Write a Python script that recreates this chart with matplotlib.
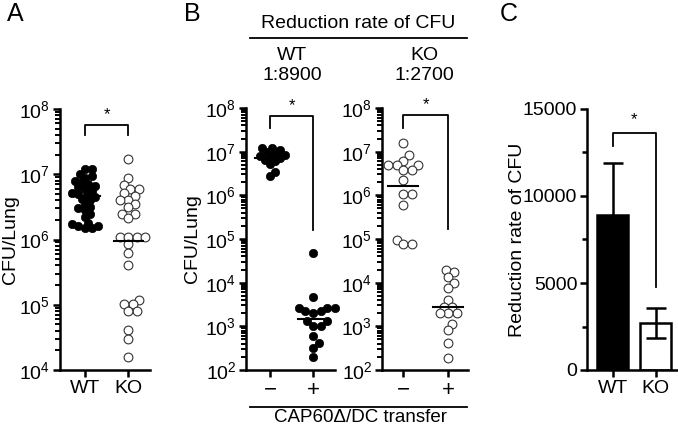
import numpy as np
import matplotlib
matplotlib.use("Agg")
import matplotlib.pyplot as plt
from matplotlib.lines import Line2D
from matplotlib.ticker import FixedLocator, LogLocator, LogFormatterSciNotation

plt.rcParams['font.family'] = ['Liberation Sans', 'DejaVu Sans']
plt.rcParams['mathtext.fontset'] = 'custom'
plt.rcParams['mathtext.rm'] = 'Liberation Sans'
plt.rcParams['mathtext.it'] = 'Liberation Sans:italic'
plt.rcParams['mathtext.bf'] = 'Liberation Sans:bold'

# ---- data ----
# panel A: CFU/Lung, WT (filled) vs KO (open)
a_groups = ['WT', 'KO']
a_wt = [1.2e7, 1.2e7, 1.0e7, 9.5e6, 8.9e6, 7.9e6, 7.6e6, 7.1e6, 6.6e6, 6.3e6,
        6.0e6, 5.6e6, 5.2e6, 5.0e6, 4.8e6, 4.5e6, 4.2e6, 4.0e6, 3.5e6, 3.2e6,
        3.0e6, 2.8e6, 2.5e6, 2.2e6, 1.8e6, 1.7e6, 1.6e6, 1.5e6, 1.5e6, 1.6e6]
a_ko = [1.7e7, 8.9e6, 6.9e6, 5.9e6, 5.9e6, 5.1e6, 4.7e6, 4.1e6, 4.1e6, 3.5e6,
        3.1e6, 2.5e6, 2.5e6, 2.1e6, 1.1e6, 1.1e6, 1.1e6, 1.1e6, 8.5e5, 6.2e5,
        4.1e5, 1.17e5, 1.02e5, 1.02e5, 8.1e4, 8.1e4, 4.1e4, 3.0e4, 1.6e4]
a_lines = [4.7e6, 9.5e5]

# panel B: CAP60/DC transfer -/+ in WT and KO
b_ticks = ['\u2212', '+']
b_wt_minus = [1.2e7, 1.2e7, 1.1e7, 1.0e7, 8.9e6, 8.3e6, 7.9e6, 7.6e6, 7.1e6,
              6.3e6, 6.0e6, 5.2e6, 3.5e6, 2.8e6]
b_wt_plus = [4.7e4, 4.8e3, 2.6e3, 2.6e3, 2.6e3, 2.2e3, 2.2e3, 2.0e3, 1.3e3,
             1.3e3, 1.0e3, 1.0e3, 5.9e2, 4.2e2, 3.2e2, 2.0e2]
b_wt_lines = [7.0e6, 1.45e3]
b_ko_minus = [1.6e7, 8.3e6, 6.2e6, 5.0e6, 5.0e6, 5.0e6, 3.8e6, 3.8e6, 2.2e6,
              1.07e6, 1.07e6, 6.0e5, 9.5e4, 7.8e4, 7.8e4]
b_ko_plus = [2.0e4, 1.8e4, 1.35e4, 9.8e3, 7.4e3, 4.1e3, 2.75e3, 2.75e3, 2.0e3,
             2.0e3, 2.0e3, 1.15e3, 8.3e2, 4.2e2, 1.9e2]
b_ko_lines = [1.6e6, 2.8e3]
b_header = 'Reduction rate of CFU'
b_sub = [('WT', '1:8900'), ('KO', '1:2700')]

# panel C: reduction rate bars
c_groups = ['WT', 'KO']
c_means = [8900, 2700]
c_err = [3000, 850]

W, H = 678, 429
fig = plt.figure(figsize=(W / 100, H / 100), dpi=100)
FS = 14
LW = 1.8


def px_axes(left, top, right, bottom):
    return fig.add_axes([left / W, 1 - bottom / H, (right - left) / W, (bottom - top) / H])


def style(ax, log_range=None):
    for s in ['top', 'right']:
        ax.spines[s].set_visible(False)
    for s in ['left', 'bottom']:
        ax.spines[s].set_linewidth(LW)
    ax.tick_params(axis='both', which='major', width=LW, length=5, labelsize=FS, pad=2)
    ax.tick_params(axis='y', which='minor', width=1.4, length=3.5)
    ax.tick_params(axis='x', which='minor', length=0)
    if log_range:
        lo, hi = log_range
        ax.set_yscale('log')
        ax.set_ylim(10 ** lo, 10 ** hi)
        ax.yaxis.set_major_locator(FixedLocator([10.0 ** k for k in range(lo, hi + 1)]))
        ax.yaxis.set_major_formatter(LogFormatterSciNotation())
        ax.yaxis.set_minor_locator(LogLocator(base=10, subs=np.arange(2, 10), numticks=20))


def label_at(ax, x_px, left, right):
    # ylabel anchor is the right edge of the rotated text
    ax.yaxis.set_label_coords((x_px + 8 - left) / (right - left), 0.5)


def swarm(ax, xc, vals, diam):
    pts = ax.transData.transform([(xc, v) for v in vals])
    ys = pts[:, 1]
    x0 = pts[0, 0]
    placed = []
    xs = np.zeros(len(vals))
    for i in np.argsort(ys):
        y = ys[i]
        best = 0.0
        for k in range(0, 80):
            cands = [0.0] if k == 0 else [k * diam * 0.3, -k * diam * 0.3]
            found = False
            for dx in cands:
                if all((dx - px) ** 2 + (y - py) ** 2 >= diam ** 2 for px, py in placed):
                    best = dx
                    found = True
                    break
            if found:
                break
        placed.append((best, y))
        xs[i] = x0 + best
    return ax.transData.inverted().transform(np.column_stack([xs, ys]))[:, 0]


def dots(ax, xc, vals, filled, line, diam=5.5):
    xs = swarm(ax, xc, vals, diam)
    if filled:
        ax.scatter(xs, vals, s=36, color='black', edgecolor='black', lw=0.5, zorder=3, clip_on=False)
    else:
        ax.scatter(xs, vals, s=40, facecolor='white', edgecolor='#333333', lw=0.8, zorder=3, clip_on=False)
    ax.plot([xc - 0.34, xc + 0.34], [line, line], color='black', lw=1.5, zorder=4)


def bracket(ax, x1, x2, top, leg1, leg2, star):
    ax.plot([x1, x1, x2, x2], [leg1, top, top, leg2], color='black', lw=1.3, clip_on=False)
    ax.text((x1 + x2) / 2, star, '*', ha='center', va='center', fontsize=12)


# ---- panel A ----
axA = px_axes(60, 109, 150, 370)
axA.set_xlim(0.42, 2.5)
style(axA, (4, 8))
axA.set_xticks([1, 2])
axA.set_xticklabels(a_groups)
dots(axA, 1, a_wt, True, a_lines[0], diam=5.5)
dots(axA, 2, a_ko, False, a_lines[1], diam=7.0)
bracket(axA, 1, 2, 10 ** 7.755, 10 ** 7.6, 10 ** 7.6, 10 ** 7.92)
axA.set_ylabel('CFU/Lung', fontsize=FS)
label_at(axA, 11, 60, 150)

# ---- panel B (WT) ----
axB1 = px_axes(246, 108, 335, 370)
axB1.set_xlim(0.44, 2.51)
style(axB1, (2, 8))
axB1.set_xticks([1, 2])
axB1.set_xticklabels(b_ticks, fontsize=FS + 2)
dots(axB1, 1, b_wt_minus, True, b_wt_lines[0], diam=5.5)
dots(axB1, 2, b_wt_plus, True, b_wt_lines[1], diam=6.5)
bracket(axB1, 1, 2, 10 ** 7.82, 10 ** 7.54, 10 ** 5.2, 10 ** 8.05)
axB1.set_ylabel('CFU/Lung', fontsize=FS)
label_at(axB1, 193, 246, 335)

# ---- panel B (KO) ----
axB2 = px_axes(382, 108, 468, 370)
axB2.set_xlim(0.53, 2.44)
style(axB2, (2, 8))
axB2.set_xticks([1, 2])
axB2.set_xticklabels(b_ticks, fontsize=FS + 2)
dots(axB2, 1, b_ko_minus, False, b_ko_lines[0], diam=7.0)
dots(axB2, 2, b_ko_plus, False, b_ko_lines[1], diam=7.0)
bracket(axB2, 1, 2, 10 ** 7.84, 10 ** 7.54, 10 ** 5.23, 10 ** 8.07)

# ---- panel C ----
axC = px_axes(587, 109, 678, 370)
axC.set_xlim(0.407, 2.52)
style(axC)
axC.set_ylim(0, 15000)
axC.set_yticks([0, 5000, 10000, 15000])
axC.set_yticks([2500, 7500, 12500], minor=True)
axC.tick_params(axis='y', which='minor', width=LW, length=3.5)
axC.set_xticks([1, 2])
axC.set_xticklabels(c_groups)
xc = np.arange(1, len(c_groups) + 1)
axC.bar(xc, c_means, width=0.72, color=['black', 'white'], edgecolor='black', lw=LW, zorder=2)
axC.errorbar(xc, c_means, yerr=c_err, fmt='none', ecolor='black', elinewidth=LW,
             capsize=7, capthick=LW, zorder=3)
bracket(axC, 1, 2, 13600, 12860, 4760, 14400)
axC.set_ylabel('Reduction rate of CFU', fontsize=FS)
label_at(axC, 518, 587, 678)


# ---- header / footer of panel B ----
def fx(x):
    return x / W


def fy(y):
    return 1 - y / H


fig.text(fx(358), fy(23), b_header, ha='center', va='center', fontsize=FS)
fig.add_artist(Line2D([fx(250), fx(467)], [fy(38), fy(38)], color='black', lw=1.3))
for (name, ratio), x in zip(b_sub, [292, 424]):
    fig.text(fx(x), fy(55), name, ha='center', va='center', fontsize=FS)
    fig.text(fx(x), fy(76), ratio, ha='center', va='center', fontsize=FS)
fig.add_artist(Line2D([fx(250), fx(467)], [fy(407), fy(407)], color='black', lw=1.3))
fig.text(fx(360), fy(418), 'CAP60\u0394/DC transfer', ha='center', va='center', fontsize=FS - 0.5)

for letter, x in [('A', 15), ('B', 192), ('C', 509)]:
    fig.text(fx(x), fy(14), letter, ha='center', va='center', fontsize=18)

fig.savefig('out.png', dpi=100)
